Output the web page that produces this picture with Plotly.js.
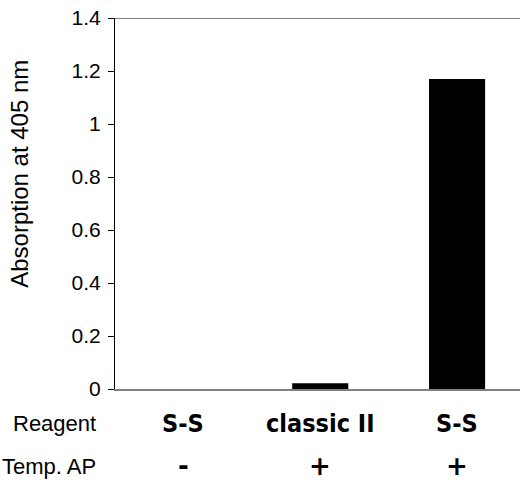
<!DOCTYPE html>
<html>
<head>
<meta charset="utf-8">
<script src="https://cdn.plot.ly/plotly-3.0.1.min.js"></script>
<style>html,body{margin:0;padding:0;background:#fff;}#chart{width:520px;height:482px;}</style>
</head>
<body>
<div id="chart"></div>
<script>
// Data
var reagents = ['S-S', 'classic II', 'S-S'];
var tempAP = ['-', '+', '+'];
var absorption = [0.0, 0.022, 1.17];
var rowLabels = ['Reagent', 'Temp. AP'];
var yTicks = [0, 0.2, 0.4, 0.6, 0.8, 1, 1.2, 1.4];
var yTickText = ['0', '0.2', '0.4', '0.6', '0.8', '1', '1.2', '1.4'];
var yTitle = 'Absorption at 405 nm';

var positions = reagents.map(function (_, i) { return i; });

var trace = {
  type: 'bar',
  x: positions,
  y: absorption,
  width: 0.41,
  marker: { color: '#000000', line: { width: 0 } },
  hoverinfo: 'skip'
};

var annotations = [];
reagents.forEach(function (r, i) {
  annotations.push({
    xref: 'x', yref: 'paper', x: i, y: 0, yanchor: 'middle', xanchor: 'center',
    yshift: -34, showarrow: false, text: '<b>' + r + '</b>',
    font: { family: 'DejaVu Sans Condensed, DejaVu Sans, sans-serif', size: 25, color: '#000' }
  });
  annotations.push({
    xref: 'x', yref: 'paper', x: i, y: 0, yanchor: 'middle', xanchor: 'center',
    yshift: -77, showarrow: false, text: '<b>' + tempAP[i] + '</b>',
    font: { family: 'DejaVu Sans, sans-serif', size: 26, color: '#000' }
  });
});
rowLabels.forEach(function (t, k) {
  annotations.push({
    xref: 'paper', yref: 'paper', x: 0, y: 0, xanchor: 'right', yanchor: 'middle',
    xshift: -17, yshift: k === 0 ? -34 : -77, showarrow: false, text: t,
    font: { family: 'Liberation Sans, Arial, sans-serif', size: 22, color: '#000' }
  });
});
annotations.push({
  xref: 'paper', yref: 'paper', x: 0, y: 0.58, xanchor: 'center', yanchor: 'middle',
  xshift: -95, showarrow: false, textangle: -90, text: yTitle,
  font: { family: 'Liberation Sans, Arial, sans-serif', size: 24, color: '#000' }
});

var layout = {
  width: 520, height: 482,
  margin: { l: 115, r: 0, t: 18, b: 93, pad: 0 },
  paper_bgcolor: '#ffffff', plot_bgcolor: '#ffffff',
  showlegend: false,
  font: { family: 'Liberation Sans, Arial, sans-serif', color: '#000' },
  xaxis: {
    range: [-0.5, 2.46], showgrid: false, zeroline: false,
    showline: true, linecolor: '#808080', linewidth: 1.5,
    showticklabels: false, ticks: '', fixedrange: true
  },
  yaxis: {
    range: [0, 1.4], tickvals: yTicks, ticktext: yTickText,
    showgrid: false, zeroline: false,
    showline: true, linecolor: '#000', linewidth: 1,
    ticks: 'outside', ticklen: 6, tickcolor: '#000', tickwidth: 1,
    ticklabelstandoff: 3,
    tickfont: { family: 'Liberation Sans, Arial, sans-serif', size: 21, color: '#000' },
    fixedrange: true
  },
  shapes: [{
    type: 'line', xref: 'paper', yref: 'y', x0: 0, x1: 1, y0: 1.4, y1: 1.4,
    line: { color: '#000', width: 1.2 }
  }],
  annotations: annotations
};

Plotly.newPlot('chart', [trace], layout, { displayModeBar: false, staticPlot: true });
</script>
</body>
</html>
